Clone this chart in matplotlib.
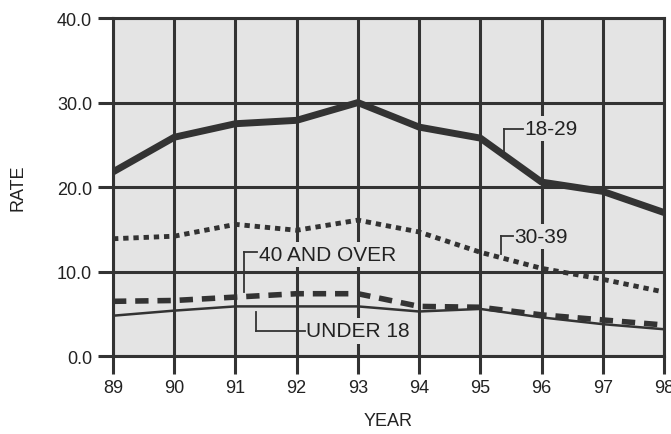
import matplotlib
matplotlib.use("Agg")
import matplotlib.pyplot as plt

plt.rcParams['font.family'] = ['Liberation Sans', 'DejaVu Sans']

years = [89, 90, 91, 92, 93, 94, 95, 96, 97, 98]
year_labels = ["89", "90", "91", "92", "93", "94", "95", "96", "97", "98"]
rate_18_29 = [21.8, 25.9, 27.5, 27.9, 30.0, 27.1, 25.8, 20.6, 19.5, 17.0]
rate_30_39 = [13.9, 14.2, 15.6, 14.9, 16.1, 14.7, 12.3, 10.4, 9.1, 7.6]
rate_40_over = [6.5, 6.6, 7.0, 7.4, 7.4, 5.9, 5.8, 4.9, 4.3, 3.7]
rate_under_18 = [4.8, 5.4, 5.9, 5.9, 5.9, 5.3, 5.6, 4.6, 3.8, 3.2]
y_ticks = [0, 10, 20, 30, 40]
y_tick_labels = ["0.0", "10.0", "20.0", "30.0", "40.0"]

ink = "#333333"
bg = "#e4e4e4"

fig = plt.figure(figsize=(6.71, 4.35), dpi=100)
ax = fig.add_axes([113/671, 1 - 357.3/435, (664 - 113)/671, (357.3 - 19)/435])
ax.set_facecolor(bg)
ax.set_xlim(89, 98)
ax.set_ylim(0, 40)

# grid
for x in years:
    ax.axvline(x, color=ink, lw=2.2, zorder=1)
for y in y_ticks:
    ax.axhline(y, color=ink, lw=2.2, zorder=1)

for s in ax.spines.values():
    s.set_color(ink)
    s.set_linewidth(2.2)
    s.set_zorder(6)

ax.set_xticks(years)
ax.set_xticklabels(year_labels)
ax.set_yticks(y_ticks)
ax.set_yticklabels(y_tick_labels)
ax.tick_params(axis='x', length=13, width=2.2, color=ink, labelsize=13,
               labelcolor="#222222", pad=3)
ax.tick_params(axis='y', length=11, width=2.2, color=ink, labelsize=13,
               labelcolor="#222222", pad=4)

ax.set_xlabel("YEAR", fontsize=13, color="#222222", labelpad=12)
ax.set_ylabel("RATE", fontsize=13, color="#222222", labelpad=22)

ax.plot(years, rate_18_29, color=ink, lw=5, solid_capstyle='butt', zorder=5, clip_on=True)
ax.plot(years, rate_30_39, color=ink, lw=3.5, dashes=(1.1, 1.0),
        dash_capstyle='butt', zorder=5)
ax.plot(years, rate_40_over, color=ink, lw=4, dashes=(2.4, 1.6),
        dash_capstyle='butt', zorder=5)
ax.plot(years, rate_under_18, color=ink, lw=1.8, zorder=5)

box = dict(boxstyle='square,pad=0.15', facecolor=bg, edgecolor='none')
tkw = dict(fontsize=15, color="#222222", va='center', ha='left', zorder=3, bbox=box)
lkw = dict(color=ink, lw=1.3, zorder=4)

# 18-29
ax.text(95.72, 26.9, "18-29", **tkw)
ax.plot([95.39, 95.7], [26.9, 26.9], **lkw)
ax.plot([95.39, 95.39], [26.9, 24.1], **lkw)

# 30-39
ax.text(95.56, 14.2, "30-39", **tkw)
ax.plot([95.34, 95.54], [14.2, 14.2], **lkw)
ax.plot([95.34, 95.34], [14.2, 12.1], **lkw)

# 40 AND OVER
ax.text(91.38, 12.0, "40 AND OVER", **tkw)
ax.plot([91.14, 91.36], [12.3, 12.3], **lkw)
ax.plot([91.14, 91.14], [12.3, 7.6], **lkw)

# UNDER 18
ax.text(92.15, 3.0, "UNDER 18", **tkw)
ax.plot([91.34, 91.34], [5.2, 3.0], **lkw)
ax.plot([91.34, 92.13], [3.0, 3.0], **lkw)

fig.savefig("out.png", dpi=100)
